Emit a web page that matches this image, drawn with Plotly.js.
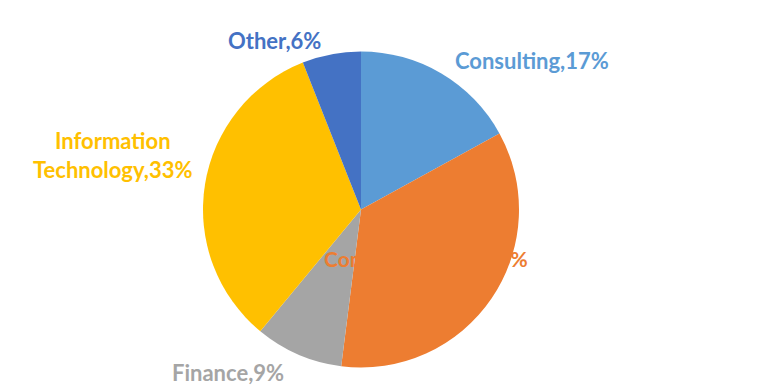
<!DOCTYPE html>
<html>
<head>
<meta charset="utf-8">
<script src="https://cdn.plot.ly/plotly-3.0.1.min.js"></script>
<style>html,body{margin:0;padding:0;background:#fff;}#chart{width:759px;height:392px;}</style>
</head>
<body>
<div id="chart"></div>
<script>
var categories = ["Consulting", "Communications", "Finance", "Information Technology", "Other"];
var values = [17, 35, 9, 33, 6];
var colors = ["#5B9BD5", "#ED7D31", "#A5A5A5", "#FFC000", "#4472C4"];
var labelText = ["Consulting,17%", "Communications,35%", "Finance,9%", "Information<br>Technology,33%", "Other,6%"];

var W = 759, H = 392;
var font = "Lato, 'Open Sans', sans-serif";
var fontSizes = [22, 21, 22, 22, 22];

// label centers in pixels
var labelPos = [[532, 60], [426, 258], [228, 372], [112, 155], [274, 40]];

var annotations = [];
for (var i = 0; i < categories.length; i++) {
  annotations.push({
    xref: "paper", yref: "paper", x: labelPos[i][0] / W, y: 1 - labelPos[i][1] / H,
    xanchor: "center", yanchor: "middle",
    text: "<b>" + labelText[i] + "</b>", showarrow: false, align: "center",
    font: {family: font, size: fontSizes[i], color: colors[i]}
  });
}

var data = [{
  type: "pie",
  values: values,
  labels: categories,
  sort: false,
  direction: "clockwise",
  rotation: 0,
  marker: {colors: colors, line: {width: 0}},
  textinfo: "none",
  hoverinfo: "label+percent",
  domain: {x: [203 / W, 519 / W], y: [24.5 / H, 340.5 / H]}
}];

var layout = {
  width: W, height: H,
  margin: {l: 0, r: 0, t: 0, b: 0},
  showlegend: false,
  paper_bgcolor: "#fff",
  annotations: annotations
};

Plotly.newPlot("chart", data, layout, {displayModeBar: false, staticPlot: true});
</script>
</body>
</html>
